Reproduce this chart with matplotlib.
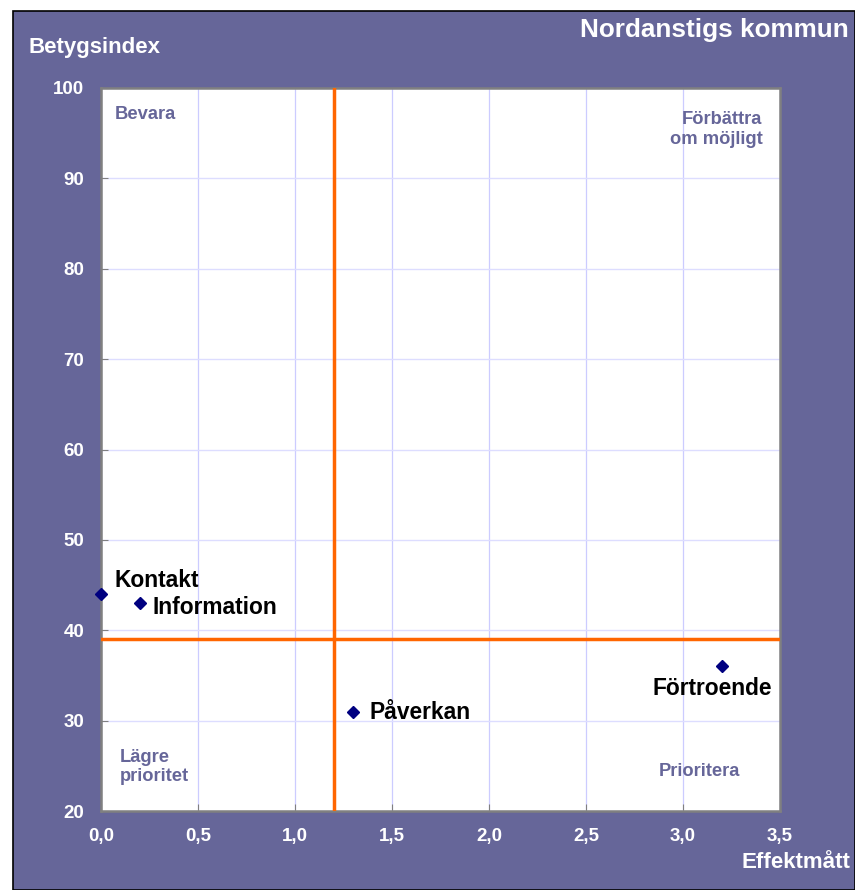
import matplotlib
matplotlib.use("Agg")
import matplotlib.pyplot as plt
from matplotlib.patches import Rectangle

plt.rcParams['font.family'] = ['Liberation Sans', 'DejaVu Sans']

names = ["Kontakt", "Information", "Påverkan", "Förtroende"]
effekt = [0.0, 0.2, 1.3, 3.2]
betyg = [44, 43, 31, 36]
x_ticks = [0.0, 0.5, 1.0, 1.5, 2.0, 2.5, 3.0, 3.5]
x_tick_labels = ["0,0", "0,5", "1,0", "1,5", "2,0", "2,5", "3,0", "3,5"]
y_ticks = [20, 30, 40, 50, 60, 70, 80, 90, 100]
x_split = 1.2
y_split = 39

W, H = 855, 890
BG = "#666699"
fig = plt.figure(figsize=(W/100, H/100), dpi=100, facecolor="white")
fig.patches.append(Rectangle((13/W, 0), 1 - 13/W, 1 - 11/H, transform=fig.transFigure,
                             facecolor=BG, edgecolor="black", linewidth=1.2, zorder=-10))

ax = fig.add_axes([101/W, 1 - 811/H, (780-101)/W, (811-88)/H])
ax.set_facecolor("white")
ax.set_xlim(0, 3.5)
ax.set_ylim(20, 100)
ax.set_xticks(x_ticks)
ax.set_xticklabels(x_tick_labels)
ax.set_yticks(y_ticks)
ax.xaxis.grid(True, color="#CCCCFF", linewidth=0.9)
ax.yaxis.grid(True, color="#DDDDFF", linewidth=1.0)
ax.set_axisbelow(True)
for s in ax.spines.values():
    s.set_color("#808080")
    s.set_linewidth(1.8)
ax.tick_params(axis="both", colors="#808080", direction="in", length=5, labelcolor="white",
               labelsize=13.5, pad=12)
for lbl in ax.get_xticklabels() + ax.get_yticklabels():
    lbl.set_fontweight("bold")

ax.axvline(x_split, color="#FF6600", linewidth=2.5, zorder=3)
ax.axhline(y_split, color="#FF6600", linewidth=2.5, zorder=3)

ax.plot(effekt, betyg, linestyle="none", marker="D", markersize=6.5, color="#000080",
        clip_on=False, zorder=5)

label_offsets = {
    "Kontakt": (10, 10, "left", "center"),
    "Information": (9, -3, "left", "center"),
    "Påverkan": (12, -0.5, "left", "center"),
    "Förtroende": (36, -16, "right", "center"),
}
for n, xv, yv in zip(names, effekt, betyg):
    dx, dy, ha, va = label_offsets[n]
    ax.annotate(n, (xv, yv), xytext=(dx, dy), textcoords="offset points", ha=ha, va=va,
                fontsize=16.4, fontweight="bold", color="black", zorder=6)

qc = "#666699"
ax.text(0.0206, 0.963, "Bevara", transform=ax.transAxes, ha="left", va="center",
        fontsize=13.2, fontweight="bold", color=qc)
ax.text(0.974, 0.943, "Förbättra\nom möjligt", transform=ax.transAxes, ha="right", va="center",
        fontsize=13.2, fontweight="bold", color=qc, linespacing=1.2)
ax.text(0.028, 0.061, "Lägre\nprioritet", transform=ax.transAxes, ha="left", va="center",
        fontsize=13.2, fontweight="bold", color=qc, linespacing=1.2)
ax.text(0.881, 0.055, "Prioritera", transform=ax.transAxes, ha="center", va="center",
        fontsize=13.2, fontweight="bold", color=qc)

fig.text(28/W, 1 - 47/H, "Betygsindex", ha="left", va="center", fontsize=16,
         fontweight="bold", color="white")
fig.text(849/W, 1 - 30/H, "Nordanstigs kommun", ha="right", va="center", fontsize=18.8,
         fontweight="bold", color="white")
fig.text(850/W, 1 - 862/H, "Effektmått", ha="right", va="center", fontsize=16,
         fontweight="bold", color="white")

fig.savefig("out.png", dpi=100, facecolor=fig.get_facecolor())
